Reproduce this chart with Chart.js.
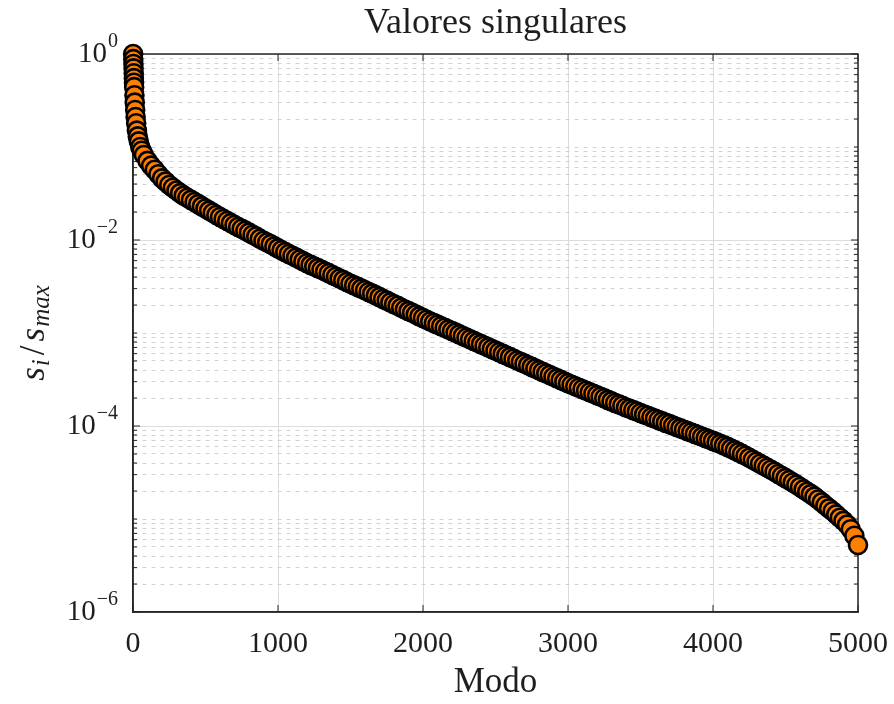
<!DOCTYPE html>
<html>
<head>
<meta charset="utf-8">
<title>Valores singulares</title>
<script src="https://cdn.jsdelivr.net/npm/chart.js@4.4.1/dist/chart.umd.min.js"></script>
<style>
  html, body { margin: 0; padding: 0; background: #fff; }
  #contenedor { width: 894px; height: 704px; }
</style>
</head>
<body>
<div id="contenedor"><canvas id="grafico"></canvas></div>
<script>
// valores singulares normalizados s_i/s_max por modo
var modos = [1, 2, 3, 4, 5, 6, 7, 8, 10, 12, 15, 18, 22, 27, 33, 40, 50, 60, 75,
  100, 125, 150, 175,
  200, 225, 250, 275, 300, 325, 350, 375, 400, 425, 450, 475,
  500, 525, 550, 575, 600, 625, 650, 675, 700, 725, 750, 775,
  800, 825, 850, 875, 900, 925, 950, 975,
  1000, 1025, 1050, 1075, 1100, 1125, 1150, 1175, 1200, 1225, 1250, 1275,
  1300, 1325, 1350, 1375, 1400, 1425, 1450, 1475, 1500, 1525, 1550, 1575,
  1600, 1625, 1650, 1675, 1700, 1725, 1750, 1775, 1800, 1825, 1850, 1875,
  1900, 1925, 1950, 1975, 2000, 2025, 2050, 2075, 2100, 2125, 2150, 2175,
  2200, 2225, 2250, 2275, 2300, 2325, 2350, 2375, 2400, 2425, 2450, 2475,
  2500, 2525, 2550, 2575, 2600, 2625, 2650, 2675, 2700, 2725, 2750, 2775,
  2800, 2825, 2850, 2875, 2900, 2925, 2950, 2975, 3000, 3025, 3050, 3075,
  3100, 3125, 3150, 3175, 3200, 3225, 3250, 3275, 3300, 3325, 3350, 3375,
  3400, 3425, 3450, 3475, 3500, 3525, 3550, 3575, 3600, 3625, 3650, 3675,
  3700, 3725, 3750, 3775, 3800, 3825, 3850, 3875, 3900, 3925, 3950, 3975,
  4000, 4025, 4050, 4075, 4100, 4125, 4150, 4175, 4200, 4225, 4250, 4275,
  4300, 4325, 4350, 4375, 4400, 4425, 4450, 4475, 4500, 4525, 4550, 4575,
  4600, 4625, 4650, 4675, 4700, 4725, 4750, 4775, 4800, 4825, 4850, 4875,
  4900, 4925, 4950, 4975, 5000];

var valores = [1.0, 0.88, 0.78, 0.70, 0.62, 0.55, 0.49, 0.44, 0.36, 0.30, 0.25,
  0.21, 0.18, 0.15, 0.13, 0.115, 0.100, 0.091, 0.082,
  0.071, 0.063, 0.057, 0.051,
  0.046, 0.0424, 0.039, 0.0364, 0.034, 0.0319, 0.030, 0.0285, 0.027, 0.0256, 0.0243, 0.0230,
  0.0218, 0.0207, 0.0196, 0.0186, 0.0177, 0.0168, 0.0160, 0.0152, 0.0145, 0.0138, 0.0132, 0.0126,
  0.0120, 0.0114, 0.0109, 0.0103, 0.0098, 0.0094, 0.0090, 0.00855,
  8.13e-3, 7.76e-3, 7.41e-3, 7.08e-3, 6.76e-3, 6.46e-3, 6.17e-3, 5.89e-3, 5.62e-3, 5.40e-3, 5.19e-3, 4.98e-3,
  4.79e-3, 4.59e-3, 4.40e-3, 4.21e-3, 4.03e-3, 3.86e-3, 3.70e-3, 3.54e-3, 3.39e-3, 3.25e-3, 3.13e-3, 3.00e-3,
  2.88e-3, 2.76e-3, 2.65e-3, 2.54e-3, 2.43e-3, 2.32e-3, 2.23e-3, 2.13e-3, 2.04e-3, 1.96e-3, 1.87e-3, 1.79e-3,
  1.72e-3, 1.65e-3, 1.58e-3, 1.51e-3, 1.45e-3, 1.39e-3, 1.33e-3, 1.28e-3, 1.23e-3, 1.18e-3, 1.14e-3, 1.09e-3,
  1.05e-3, 1.01e-3, 9.66e-4, 9.28e-4, 8.91e-4, 8.56e-4, 8.22e-4, 7.90e-4, 7.59e-4, 7.29e-4, 7.00e-4, 6.72e-4,
  6.46e-4, 6.20e-4, 5.96e-4, 5.72e-4, 5.50e-4, 5.28e-4, 5.07e-4, 4.87e-4, 4.68e-4, 4.49e-4, 4.32e-4, 4.14e-4,
  3.98e-4, 3.82e-4, 3.67e-4, 3.53e-4, 3.39e-4, 3.25e-4, 3.13e-4, 3.00e-4, 2.88e-4, 2.78e-4, 2.68e-4, 2.58e-4,
  2.48e-4, 2.39e-4, 2.31e-4, 2.22e-4, 2.14e-4, 2.06e-4, 1.99e-4, 1.91e-4, 1.84e-4, 1.77e-4, 1.71e-4, 1.65e-4,
  1.58e-4, 1.53e-4, 1.48e-4, 1.43e-4, 1.38e-4, 1.33e-4, 1.29e-4, 1.24e-4, 1.20e-4, 1.16e-4, 1.12e-4, 1.08e-4,
  1.05e-4, 1.01e-4, 9.77e-5, 9.44e-5, 9.12e-5, 8.81e-5, 8.51e-5, 8.22e-5, 7.94e-5, 7.67e-5, 7.41e-5, 7.16e-5,
  6.92e-5, 6.67e-5, 6.43e-5, 6.19e-5, 5.96e-5, 5.71e-5, 5.47e-5, 5.24e-5, 5.01e-5, 4.78e-5, 4.55e-5, 4.33e-5,
  4.12e-5, 3.93e-5, 3.74e-5, 3.56e-5, 3.39e-5, 3.22e-5, 3.05e-5, 2.90e-5, 2.75e-5, 2.61e-5, 2.47e-5, 2.34e-5,
  2.21e-5, 2.08e-5, 1.96e-5, 1.85e-5, 1.74e-5, 1.62e-5, 1.51e-5, 1.40e-5, 1.30e-5, 1.21e-5, 1.12e-5, 1.03e-5,
  9.55e-6, 8.71e-6, 7.76e-6, 6.61e-6, 5.25e-6];

var xTicks = [0, 1000, 2000, 3000, 4000, 5000];
var yExponentes = [0, -2, -4, -6];
var titulo = 'Valores singulares';

var fuente = '"Liberation Serif", "Times New Roman", serif';
var colorTexto = '#1e1e1e';

function esDecadaRotulada(v) {
  var e = Math.log10(v);
  var r = Math.round(e);
  return Math.abs(e - r) < 1e-6 && yExponentes.indexOf(r) !== -1;
}

// caja, marcas interiores, titulo, rotulos 10^k y titulo del eje y
var marcoEjes = {
  id: 'marcoEjes',
  beforeDatasetsDraw: function (chart) {
    var ctx = chart.ctx, a = chart.chartArea;
    var x = chart.scales.x, y = chart.scales.y;
    ctx.save();
    ctx.strokeStyle = '#262626';
    ctx.lineWidth = 1;
    ctx.beginPath();
    x.ticks.forEach(function (t) {
      var px = x.getPixelForValue(t.value);
      ctx.moveTo(px, a.bottom); ctx.lineTo(px, a.bottom - 7);
      ctx.moveTo(px, a.top); ctx.lineTo(px, a.top + 7);
    });
    y.ticks.forEach(function (t) {
      var py = y.getPixelForValue(t.value);
      var largo = esDecadaRotulada(t.value) ? 7 : 4;
      ctx.moveTo(a.left, py); ctx.lineTo(a.left + largo, py);
      ctx.moveTo(a.right, py); ctx.lineTo(a.right - largo, py);
    });
    ctx.stroke();
    ctx.lineWidth = 1.5;
    ctx.strokeRect(a.left, a.top, a.right - a.left, a.bottom - a.top);
    ctx.restore();
  },
  afterDraw: function (chart) {
    var ctx = chart.ctx, a = chart.chartArea, y = chart.scales.y;
    ctx.save();
    ctx.fillStyle = colorTexto;

    // titulo centrado sobre el area del grafico
    ctx.font = '36px ' + fuente;
    ctx.textAlign = 'center';
    ctx.textBaseline = 'alphabetic';
    ctx.fillText(titulo, (a.left + a.right) / 2, 33);

    ctx.textAlign = 'right';
    yExponentes.forEach(function (e) {
      var py = y.getPixelForValue(Math.pow(10, e));
      var sup = e === 0 ? '0' : '\u2212' + (-e);
      ctx.font = '20px ' + fuente;
      var wSup = ctx.measureText(sup).width;
      ctx.fillText(sup, a.left - 15, py - 7);
      ctx.font = '29px ' + fuente;
      ctx.fillText('10', a.left - 16 - wSup, py + 8);
    });

    // s_i / s_max, girado
    var partes = [
      { t: 's', f: 'italic 35px ' + fuente, dy: 0, sep: 0 },
      { t: 'i', f: 'italic 25px ' + fuente, dy: 5, sep: 1 },
      { t: '/', f: '35px ' + fuente, dy: 0, sep: 4 },
      { t: 's', f: 'italic 35px ' + fuente, dy: 0, sep: 4 },
      { t: 'max', f: 'italic 25px ' + fuente, dy: 5, sep: 1 }
    ];
    var total = 0;
    partes.forEach(function (p) {
      ctx.font = p.f;
      p.w = ctx.measureText(p.t).width;
      total += p.w + p.sep;
    });
    ctx.translate(44, (a.top + a.bottom) / 2);
    ctx.rotate(-Math.PI / 2);
    ctx.textAlign = 'left';
    var cx = -total / 2;
    partes.forEach(function (p) {
      cx += p.sep;
      ctx.font = p.f;
      ctx.fillText(p.t, cx, p.dy);
      cx += p.w;
    });
    ctx.restore();
  }
};

var puntos = modos.map(function (m, i) { return { x: m, y: valores[i] }; });

new Chart(document.getElementById('grafico'), {
  type: 'scatter',
  data: {
    datasets: [{
      data: puntos,
      backgroundColor: '#ff8000',
      borderColor: '#000000',
      borderWidth: 2.6,
      pointRadius: 9,
      pointHoverRadius: 9,
      showLine: false,
      clip: false
    }]
  },
  options: {
    responsive: true,
    maintainAspectRatio: false,
    animation: false,
    devicePixelRatio: 1,
    layout: { padding: { top: 54, right: 36, bottom: 0, left: 0 } },
    plugins: {
      legend: { display: false },
      tooltip: { enabled: false },
      title: { display: false }
    },
    scales: {
      x: {
        type: 'linear',
        min: 0,
        max: 5000,
        afterBuildTicks: function (escala) {
          escala.ticks = xTicks.map(function (v) { return { value: v }; });
        },
        afterFit: function (escala) {
          escala.height = 92;
          escala.paddingLeft = 0;
          escala.paddingRight = 0;
        },
        grid: { color: '#dcdcdc', lineWidth: 1, drawTicks: false },
        border: { color: '#262626', width: 1.5 },
        ticks: {
          color: colorTexto,
          font: { family: fuente, size: 30 },
          padding: 14,
          maxRotation: 0,
          callback: function (v) { return String(v); }
        },
        title: {
          display: true,
          text: 'Modo',
          color: colorTexto,
          font: { family: fuente, size: 35 },
          padding: { top: 5, bottom: 0 }
        }
      },
      y: {
        type: 'logarithmic',
        min: 1e-6,
        max: 1,
        afterBuildTicks: function (escala) {
          var lista = [];
          for (var e = -6; e < 0; e++) {
            for (var m = 1; m < 10; m++) lista.push({ value: m * Math.pow(10, e) });
          }
          lista.push({ value: 1 });
          escala.ticks = lista;
        },
        afterFit: function (escala) {
          escala.width = 133;
          escala.paddingTop = 0;
          escala.paddingBottom = 0;
        },
        ticks: { display: false },
        grid: {
          drawTicks: false,
          lineWidth: 1,
          color: function (c) {
            if (!c.tick) return '#dcdcdc';
            return esDecadaRotulada(c.tick.value) ? '#dcdcdc' : '#d2d2d2';
          }
        },
        border: {
          color: '#262626',
          width: 1.5,
          dash: function (c) {
            if (!c.tick) return [];
            return esDecadaRotulada(c.tick.value) ? [] : [4, 5];
          }
        }
      }
    }
  },
  plugins: [marcoEjes]
});
</script>
</body>
</html>
